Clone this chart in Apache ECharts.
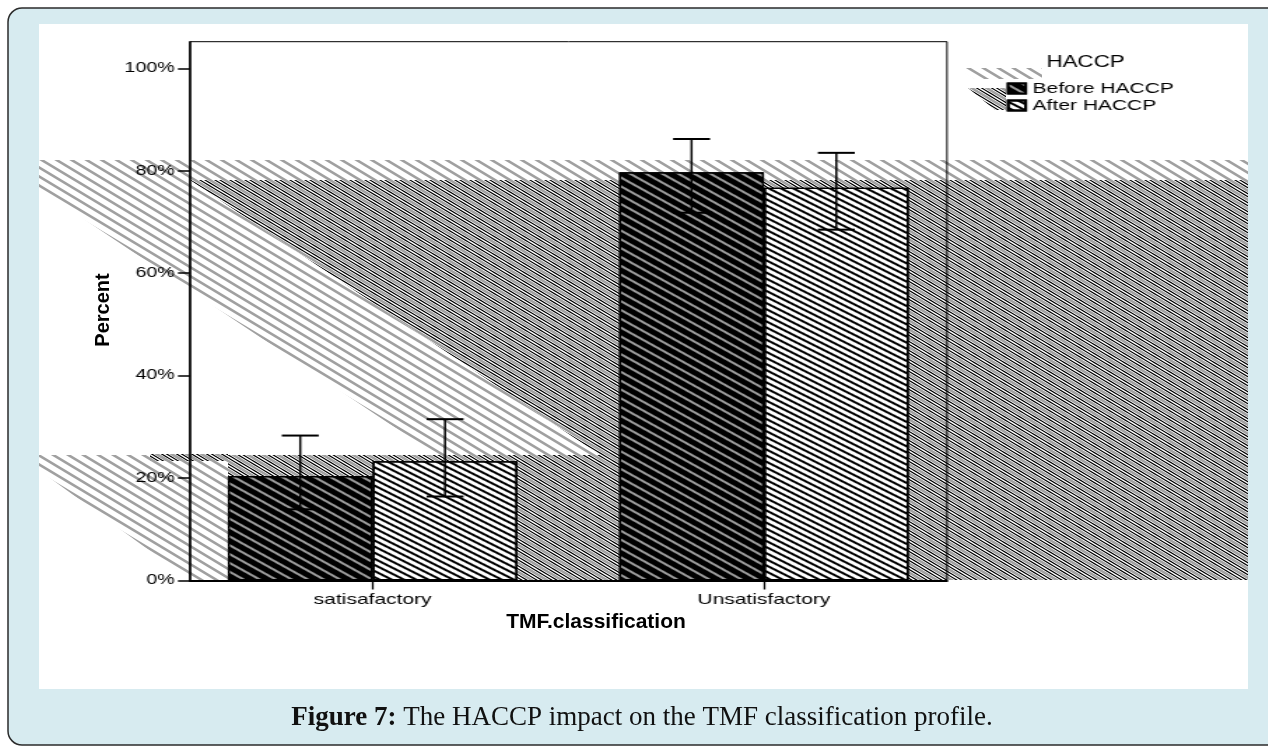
<!DOCTYPE html>
<html><head><meta charset="utf-8">
<script src="https://cdn.jsdelivr.net/npm/echarts@6/dist/echarts.min.js"></script>
<style>
html,body{margin:0;padding:0;background:#fff;overflow:hidden;}
#outer{position:absolute;left:0;top:0;width:1268px;height:746px;}
#chart{position:absolute;left:39px;top:24px;width:864px;height:665px;transform-origin:0 0;transform:scaleX(1.3993);}
</style></head><body>
<div id="outer"></div><div id="chart"></div>
<script>
// ---- data ----
const categories = ['satisafactory', 'Unsatisfactory'];
const seriesNames = ['Before HACCP', 'After HACCP'];
const beforeHACCP = [20.4, 79.7];
const afterHACCP = [23.3, 76.7];
const beforeLow = [13.9, 71.8];
const beforeHigh = [28.3, 86.2];
const afterLow = [16.4, 68.5];
const afterHigh = [31.5, 83.5];
const yTicks = [0, 20, 40, 60, 80, 100];
const legendTitle = 'HACCP';
const xTitle = 'TMF.classification';
const yTitle = 'Percent';
const captionBold = 'Figure 7:';
const captionText = ' The HACCP impact on the TMF classification profile.';

const SANS = "'Liberation Sans', Arial, sans-serif";
const SERIF = "'Liberation Serif', 'Times New Roman', serif";

// ---- hatch textures (rendering artefacts of the source figure) ----
function makeHatch(lines) {
  const W = 15, H = 9;
  const c = document.createElement('canvas');
  c.width = W; c.height = H;
  const ctx = c.getContext('2d');
  lines.forEach(l => {
    ctx.strokeStyle = l.color; ctx.lineWidth = l.width;
    for (let k = -1; k <= 1; k++) {
      ctx.beginPath();
      ctx.moveTo(l.x0 + k * W - W, -H);
      ctx.lineTo(l.x0 + k * W + 2 * W, 2 * H);
      ctx.stroke();
    }
  });
  return {image: c, repeat: 'repeat'};
}
const grayHatch = makeHatch([{x0: 0, color: '#a0a0a0', width: 2.6}]);
const denseHatch = makeHatch([
  {x0: 0, color: '#a0a0a0', width: 2.4},
  {x0: 5, color: '#000', width: 1.1}, {x0: 10, color: '#000', width: 1.1}
]);

// ---- outer (page frame, caption, axis titles) ----
const outer = echarts.init(document.getElementById('outer'));
outer.setOption({
  animation: false,
  graphic: [
    {type: 'rect', shape: {x: 8, y: 8, width: 1300, height: 737, r: 14},
     style: {fill: '#d7ebf0', stroke: '#2b2b2b', lineWidth: 1.5}},
    {type: 'rect', shape: {x: 39, y: 24, width: 1209, height: 665}, style: {fill: '#ffffff'}},
    {type: 'polygon', shape: {points: [[39, 160], [1248, 160], [1248, 180], [190, 180], [600, 455], [436, 455], [39, 189]]},
     style: {fill: grayHatch}},
    {type: 'polygon', shape: {points: [[39, 455], [190, 455], [190, 580], [39, 470]]},
     style: {fill: grayHatch}},
    {type: 'polygon', shape: {points: [[190, 180], [1248, 180], [1248, 580], [228, 580], [228, 455], [600, 455]]},
     style: {fill: denseHatch}},
    {type: 'polygon', shape: {points: [[190, 455], [228, 455], [228, 580], [190, 580]]},
     style: {fill: grayHatch}},
    {type: 'polygon', shape: {points: [[150, 454], [228, 454], [228, 461], [150, 461]]},
     style: {fill: denseHatch}},
    {type: 'polygon', shape: {points: [[958, 68], [1042, 68], [1042, 79], [975, 79]]},
     style: {fill: grayHatch}},
    {type: 'polygon', shape: {points: [[968, 88], [1006, 88], [1006, 110], [995, 110]]},
     style: {fill: denseHatch}},
    {type: 'text', x: 642, y: 718,
     style: {text: '{b|' + captionBold + '}' + captionText, fill: '#111', fontFamily: SERIF, fontSize: 27,
             align: 'center', verticalAlign: 'middle',
             rich: {b: {fontWeight: 'bold', fontFamily: SERIF, fontSize: 27, fill: '#111'}}}},
    {type: 'text', x: 103, y: 310, rotation: Math.PI / 2,
     style: {text: yTitle, fill: '#000', fontFamily: SANS, fontWeight: 'bold', fontSize: 20,
             align: 'center', verticalAlign: 'middle'}},
    {type: 'text', x: 596, y: 622,
     style: {text: xTitle, fill: '#000', fontFamily: SANS, fontWeight: 'bold', fontSize: 21,
             align: 'center', verticalAlign: 'middle'}}
  ]
});

// ---- inner chart (stretched horizontally like the source) ----
const BAR_FRAC = 0.37;
function errorRender(side) {
  return function (params, api) {
    const cat = api.value(0);
    const lo = api.coord([cat, api.value(1)]);
    const hi = api.coord([cat, api.value(2)]);
    const band = api.size([1, 0])[0];
    const x = lo[0] + side * band * BAR_FRAC / 2;
    const cap = 13.2;
    return {type: 'group', children: [
      {type: 'line', shape: {x1: x, y1: hi[1], x2: x, y2: lo[1]}, style: {stroke: '#000', lineWidth: 1.5}},
      {type: 'line', shape: {x1: x - cap, y1: hi[1], x2: x + cap, y2: hi[1]}, style: {stroke: '#000', lineWidth: 2}},
      {type: 'line', shape: {x1: x - cap, y1: lo[1], x2: x + cap, y2: lo[1]}, style: {stroke: '#000', lineWidth: 2}}
    ]};
  };
}

const chart = echarts.init(document.getElementById('chart'));
chart.setOption({
  animation: false,
  textStyle: {fontFamily: SANS, color: '#000'},
  grid: [
    {left: 107.9, right: 215.1, top: 17.7, bottom: 108.5, show: true, borderColor: '#000', borderWidth: 1},
    {left: 98.6, width: 559.3, top: 17.7, bottom: 108.5}
  ],
  legend: {
    data: seriesNames, orient: 'vertical', left: 691.6, top: 57, padding: 0, icon: 'rect',
    itemWidth: 12.5, itemHeight: 10, itemGap: 2, selectedMode: false,
    textStyle: {fontFamily: SANS, fontSize: 15, color: '#000'}
  },
  graphic: [
    {type: 'text', x: 747.9, y: 38.7,
     style: {text: legendTitle, fill: '#000', fontFamily: SANS, fontSize: 16, align: 'center', verticalAlign: 'middle'}}
  ],
  xAxis: [
    {type: 'category', gridIndex: 0, data: categories,
     axisLine: {show: true, lineStyle: {color: '#000', width: 2}},
     axisTick: {show: false}, axisLabel: {show: false}, splitLine: {show: false}},
    {type: 'category', gridIndex: 1, data: categories,
     axisLine: {show: false},
     axisTick: {show: true, alignWithLabel: true, length: 9, lineStyle: {color: '#000', width: 1.3}},
     axisLabel: {show: true, fontSize: 15, margin: 12, color: '#000', fontFamily: SANS}}
  ],
  yAxis: [
    {type: 'value', gridIndex: 0, min: 0, max: 105.2,
     axisLine: {show: true, lineStyle: {color: '#000', width: 1.5}},
     axisTick: {show: true, length: 8.6, customValues: yTicks, lineStyle: {color: '#000', width: 1.5}},
     axisLabel: {show: true, customValues: yTicks, formatter: '{value}%', fontSize: 14, margin: 11, color: '#000', fontFamily: SANS},
     splitLine: {show: false}},
    {type: 'value', gridIndex: 1, min: 0, max: 105.2, show: false}
  ],
  series: [
    {name: seriesNames[0], type: 'bar', xAxisIndex: 1, yAxisIndex: 1, data: beforeHACCP,
     barWidth: '37%', barGap: '0%',
     itemStyle: {color: '#000', borderColor: '#000', borderWidth: 1.4,
       decal: {symbol: 'rect', symbolSize: 1, color: '#9a9a9a', dashArrayX: [1, 0], dashArrayY: [2, 5], rotation: 0.656}}},
    {name: seriesNames[1], type: 'bar', xAxisIndex: 1, yAxisIndex: 1, data: afterHACCP,
     barWidth: '37%', barGap: '0%',
     itemStyle: {color: '#fff', borderColor: '#000', borderWidth: 1.4,
       decal: {symbol: 'rect', symbolSize: 1, color: '#000', dashArrayX: [1, 0], dashArrayY: [1.4, 2.6], rotation: 0.61}}},
    {name: 'errBefore', type: 'custom', xAxisIndex: 1, yAxisIndex: 1, z: 5,
     renderItem: errorRender(-1), encode: {x: 0, y: [1, 2]},
     data: categories.map((c, i) => [i, beforeLow[i], beforeHigh[i]])},
    {name: 'errAfter', type: 'custom', xAxisIndex: 1, yAxisIndex: 1, z: 5,
     renderItem: errorRender(1), encode: {x: 0, y: [1, 2]},
     data: categories.map((c, i) => [i, afterLow[i], afterHigh[i]])}
  ]
});
</script>
</body></html>
